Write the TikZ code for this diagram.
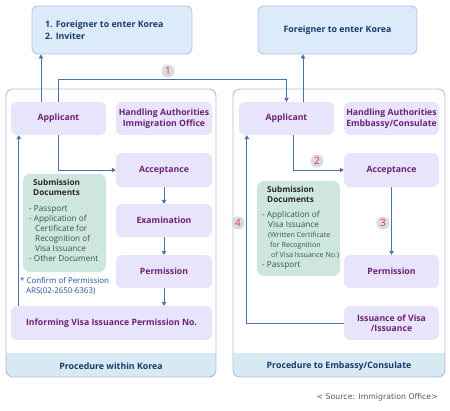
\documentclass[tikz,border=0pt]{standalone}
\usepackage{fontspec}
\setmainfont{Open Sans}
\newfontfamily\srcfont{DejaVu Sans}
\usetikzlibrary{arrows.meta}
\definecolor{topfill}{HTML}{DCEBF9}
\definecolor{topline}{HTML}{B9C3E6}
\definecolor{toptext}{HTML}{1B3A6B}
\definecolor{panelline}{HTML}{B8B8E0}
\definecolor{boxfill}{HTML}{E7E4FB}
\definecolor{boxtext}{HTML}{6B2378}
\definecolor{greenfill}{HTML}{CFE6DF}
\definecolor{greentext}{HTML}{2C5B4A}
\definecolor{footfill}{HTML}{D7E9F3}
\definecolor{arrowc}{HTML}{4A72A6}
\definecolor{numc}{HTML}{E8287A}
\definecolor{confc}{HTML}{1F4E9E}
\begin{document}
\begin{tikzpicture}[x=1pt,y=-1pt,
  topbox/.style={draw=topline,line width=0.9pt,fill=topfill,rounded corners=6pt,inner sep=0pt,
    font=\bfseries\fontsize{8.8}{11}\selectfont,text=toptext},
  panel/.style={draw=panelline,line width=0.9pt,rounded corners=7pt,inner sep=0pt},
  stepbox/.style={fill=boxfill,rounded corners=6pt,inner sep=0pt,align=center,
    font=\bfseries\fontsize{8.7}{10.5}\selectfont,text=boxtext},
  docbox/.style={fill=greenfill,rounded corners=7pt,inner sep=0pt},
  doctext/.style={inner sep=0pt,align=left,text=greentext,font=\fontsize{8.2}{10}\selectfont},
  foot/.style={inner sep=0pt,font=\bfseries\fontsize{8.8}{10}\selectfont,text=toptext},
  arr/.style={draw=arrowc,line width=0.9pt,-{Triangle[length=4pt,width=4.5pt]}},
  num/.style={circle,fill=black!14,minimum size=13pt,inner sep=0pt,text=numc,font=\fontsize{10}{10}\selectfont}
]
\useasboundingbox (0,0) rectangle (450,410);

% top boxes
\node[topbox,minimum width=160pt,minimum height=48pt] (topL) at (112,30) {};
\node[inner sep=0pt,align=left,anchor=west,font=\bfseries\fontsize{8.8}{12}\selectfont,text=toptext] (topLt) at (45,30.5) {1. Foreigner to enter Korea\\2. Inviter};
\node[topbox,minimum width=159pt,minimum height=48pt] (topR) at (337.5,30) {Foreigner to enter Korea};

% panels
\begin{scope}
\clip[rounded corners=7pt] (6,89) rectangle (216,377);
\fill[footfill] (6,353) rectangle (216,377);
\end{scope}
\begin{scope}
\clip[rounded corners=7pt] (233,89) rectangle (445,377);
\fill[footfill] (233,353) rectangle (445,377);
\end{scope}
\node[panel,minimum width=210pt,minimum height=288pt] (panL) at (111,233) {};
\node[panel,minimum width=212pt,minimum height=288pt] (panR) at (339,233) {};
\node[foot] (footL) at (111,366) {Procedure within Korea};
\node[foot] (footR) at (339,366) {Procedure to Embassy/Consulate};

% left column
\node[stepbox,minimum width=95pt,minimum height=33pt] (appL) at (58.5,118.5) {Applicant};
\node[stepbox,minimum width=96pt,minimum height=33pt] (haL) at (164,118.5) {Handling Authorities\\Immigration Office};
\node[stepbox,minimum width=96pt,minimum height=34pt] (accL) at (164,170) {Acceptance};
\node[stepbox,minimum width=96pt,minimum height=33pt] (exaL) at (164,220.5) {Examination};
\node[stepbox,minimum width=96pt,minimum height=33pt] (perL) at (164,271.5) {Permission};
\node[stepbox,minimum width=201pt,minimum height=34pt] (infL) at (111.5,323) {Informing Visa Issuance Permission No.};
\node[docbox,minimum width=83pt,minimum height=98pt] (subL) at (64.5,223) {};
\node[doctext,anchor=north west] (subLt) at (29,179) {%
\hspace*{4pt}{\bfseries\color{black!85}Submission}\\
\hspace*{4pt}{\bfseries\color{black!85}Documents}\\[6pt]
- Passport\\
- Application of\\
\hspace*{6pt}Certificate for\\
\hspace*{6pt}Recognition of\\
\hspace*{6pt}Visa Issuance\\
- Other Document};
\node[inner sep=0pt,anchor=north west,align=left,text=confc,font=\fontsize{7.9}{10}\selectfont] (conf) at (20,277.5) {* Confirm of Permission\\\hspace*{6pt}ARS(02-2650-6363)};

% right column
\node[stepbox,minimum width=95pt,minimum height=33pt] (appR) at (286.5,118.5) {Applicant};
\node[stepbox,minimum width=95pt,minimum height=33pt] (haR) at (391.5,118.5) {Handling Authorities\\Embbassy/Consulate};
\node[stepbox,minimum width=95pt,minimum height=34pt] (accR) at (391.5,170) {Acceptance};
\node[stepbox,minimum width=95pt,minimum height=33pt] (perR) at (391.5,271.5) {Permission};
\node[stepbox,minimum width=95pt,minimum height=34pt] (issR) at (391.5,323) {Issuance of Visa\\/Issuance};
\node[docbox,minimum width=83pt,minimum height=95pt] (subR) at (298.5,228.5) {};
\node[doctext,anchor=north west] (subRt) at (262,186) {%
\hspace*{5pt}{\bfseries\color{black!85}Submission}\\
\hspace*{5pt}{\bfseries\color{black!85}Documents}\\[5pt]
- Application of\\
\hspace*{6pt}Visa Issuance\\
\hspace*{6pt}{\fontsize{7.1}{10}\selectfont(Written Certificate}\\
\hspace*{8pt}{\fontsize{7.1}{10}\selectfont for Recognition}\\
\hspace*{9pt}{\fontsize{7.1}{10}\selectfont of Visa Issuance No.)}\\
- Passport};

% connectors left
\coordinate (c1y) at (0,79);
\draw[arr] ([xshift=-17.5pt]appL.north) -- ([xshift=-17.5pt]appL.north |- topL.south);
\draw[arr] (appL.north) |- (c1y -| appR.north) -- (appR.north);
\draw[arr] (appL.south) |- (accL.west);
\draw[arr] (accL.south) -- (exaL.north);
\draw[arr] (exaL.south) -- (perL.north);
\draw[arr] (perL.south) -- (perL.south |- infL.north);
\draw[arr] ([xshift=8pt]infL.north west) -- ([xshift=8pt]infL.north west |- appL.south);

% connectors right
\draw[arr] ([xshift=16.5pt]appR.north) -- ([xshift=16.5pt]appR.north |- topR.south);
\draw[arr] ([xshift=6.5pt]appR.south) |- (accR.west);
\draw[arr] (accR.south) -- (perR.north);
\draw[arr] (issR.west) -| ([xshift=8pt]appR.south west);

% numbers
\node[num] (n1) at (168,71) {1};
\node[num] (n2) at (317,161) {2};
\node[num] (n3) at (383,223) {3};
\node[num] (n4) at (238,223) {4};

% source
\node[inner sep=0pt,anchor=east,text=black!65,font=\srcfont\fontsize{7.8}{9}\selectfont] (src) at (438,397) {< Source: Immigration Office>};
\end{tikzpicture}
\end{document}
